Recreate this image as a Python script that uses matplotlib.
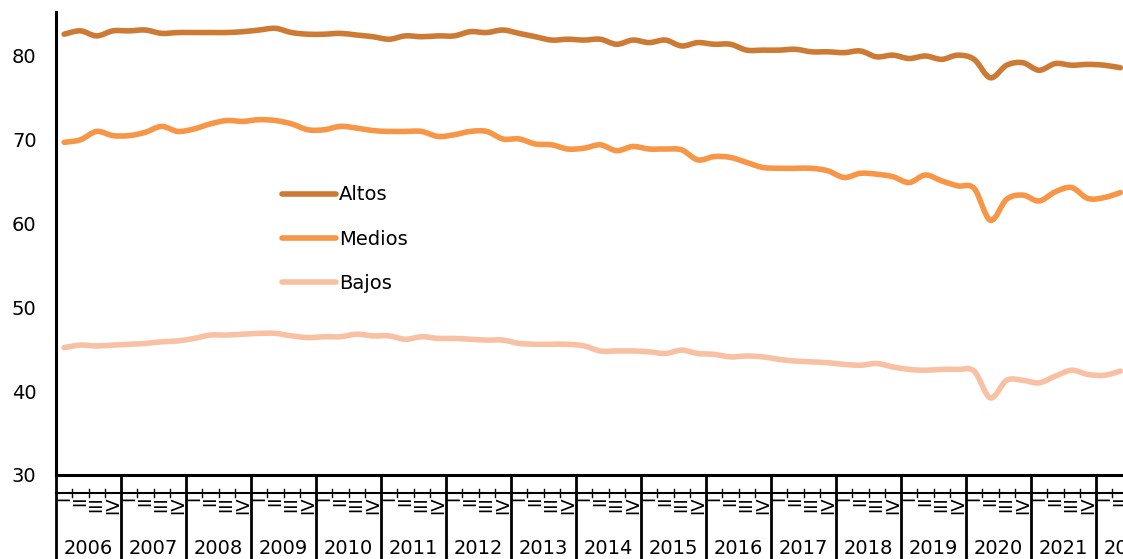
#!/usr/bin/env python3

"""Participación por nivel (Altos, Medios, Bajos), trimestral 2006-2022."""

import matplotlib
matplotlib.use("Agg")
import matplotlib.pyplot as plt
import matplotlib.transforms as mtransforms
from matplotlib.path import Path
from matplotlib.patches import PathPatch
from matplotlib.lines import Line2D

years = [str(y) for y in range(2006, 2023)]
quarters = ["I", "II", "III", "IV"]

altos = [82.6, 83.0, 82.4, 83.0, 83.0, 83.1, 82.7, 82.8,
         82.8, 82.8, 82.8, 82.9, 83.1, 83.3, 82.8, 82.6,
         82.6, 82.7, 82.5, 82.3, 82.0, 82.4, 82.3, 82.4,
         82.4, 82.9, 82.8, 83.1, 82.7, 82.3, 81.9, 82.0,
         81.9, 82.0, 81.4, 81.9, 81.6, 81.9, 81.2, 81.6,
         81.4, 81.4, 80.7, 80.7, 80.7, 80.8, 80.5, 80.5,
         80.4, 80.6, 79.9, 80.1, 79.7, 80.0, 79.6, 80.1,
         79.6, 77.4, 78.9, 79.2, 78.3, 79.1, 78.9, 79.0,
         78.9, 78.6]
medios = [69.7, 70.0, 71.0, 70.5, 70.5, 70.9, 71.6, 71.0,
          71.3, 71.9, 72.3, 72.2, 72.4, 72.3, 71.9, 71.2,
          71.2, 71.6, 71.4, 71.1, 71.0, 71.0, 71.0, 70.4,
          70.6, 71.0, 71.0, 70.1, 70.1, 69.5, 69.4, 68.9,
          69.0, 69.4, 68.7, 69.2, 68.9, 68.9, 68.8, 67.6,
          68.0, 67.9, 67.3, 66.7, 66.6, 66.6, 66.6, 66.3,
          65.5, 66.0, 65.9, 65.6, 64.9, 65.8, 65.1, 64.5,
          64.2, 60.4, 62.9, 63.4, 62.7, 63.8, 64.3, 63.0,
          63.1, 63.7]
bajos = [45.2, 45.5, 45.4, 45.5, 45.6, 45.7, 45.9, 46.0,
         46.3, 46.7, 46.7, 46.8, 46.9, 46.9, 46.6, 46.4,
         46.5, 46.5, 46.8, 46.6, 46.6, 46.2, 46.5, 46.3,
         46.3, 46.2, 46.1, 46.1, 45.7, 45.6, 45.6, 45.6,
         45.4, 44.8, 44.8, 44.8, 44.7, 44.5, 44.9, 44.5,
         44.4, 44.1, 44.2, 44.1, 43.8, 43.6, 43.5, 43.4,
         43.2, 43.1, 43.3, 42.9, 42.6, 42.5, 42.6, 42.6,
         42.4, 39.2, 41.3, 41.3, 41.0, 41.8, 42.5, 42.0,
         41.9, 42.4]

names = ["Altos", "Medios", "Bajos"]
colors = ["#CD7A35", "#F79646", "#F8C1A3"]

FS = 14
plt.rcParams["font.family"] = ["DejaVu Sans"]


def smooth_path(xs, ys):
    """Smooth line through the points (Catmull-Rom as cubic beziers)."""
    pts = list(zip(xs, ys))
    verts = [pts[0]]
    codes = [Path.MOVETO]
    n = len(pts)
    for i in range(n - 1):
        p0 = pts[max(i - 1, 0)]
        p1 = pts[i]
        p2 = pts[i + 1]
        p3 = pts[min(i + 2, n - 1)]
        c1 = (p1[0] + (p2[0] - p0[0]) / 6, p1[1] + (p2[1] - p0[1]) / 6)
        c2 = (p2[0] - (p3[0] - p1[0]) / 6, p2[1] - (p3[1] - p1[1]) / 6)
        verts += [c1, c2, p2]
        codes += [Path.CURVE4] * 3
    return Path(verts, codes)


fig = plt.figure(figsize=(11.23, 5.59), dpi=100)
# axes runs past the right edge on purpose: the reference is cut at 2022
ax = fig.add_axes([56 / 1123, 84 / 559, 1105 / 1123, 463 / 559])

x = list(range(len(altos)))
handles = []
for vals, name, c in zip([altos, medios, bajos], names, colors):
    ax.add_patch(PathPatch(smooth_path(x, vals), fill=False, edgecolor=c,
                           lw=4, capstyle="round", joinstyle="round"))
    handles.append(Line2D([], [], color=c, lw=4, solid_capstyle="round"))

ax.set_xlim(-0.5, len(years) * 4 - 0.5)
ax.set_ylim(30, 85.25)
ax.set_yticks(range(30, 81, 10))
ax.tick_params(axis="y", length=0, labelsize=FS, pad=14)
ax.set_xticks([])
for s in ["top", "right"]:
    ax.spines[s].set_visible(False)
ax.spines["left"].set_linewidth(2.2)
ax.spines["bottom"].set_linewidth(2.2)

# category axis: years with quarters under the plot
tr = mtransforms.blended_transform_factory(ax.transData, ax.transAxes)
px = 1 / 463.0  # one pixel in axes fraction (vertical)
y_line = -18 * px
y_bottom = -90 * px
ax.plot([-0.5, len(years) * 4 - 0.5], [y_line, y_line], color="black",
        lw=1.5, transform=tr, clip_on=False)
for i, yr in enumerate(years):
    x0 = i * 4 - 0.5
    ax.plot([x0, x0], [0, y_bottom], color="black", lw=2, transform=tr,
            clip_on=False)
    for k in range(1, 4):
        ax.plot([x0 + k, x0 + k], [-14 * px, -22 * px], color="black",
                lw=1, transform=tr, clip_on=False)
    for k, q in enumerate(quarters):
        ax.text(x0 + k + 0.5, -21 * px, q, rotation=90, ha="center",
                va="top", fontsize=13, transform=tr, clip_on=False)
    ax.text(x0 + 2, -73 * px, yr, ha="center", va="center", fontsize=FS,
            transform=tr, clip_on=False)

ax.legend(handles, names, loc="upper left",
          bbox_to_anchor=(264 / 1123, 1 - 168 / 559),
          bbox_transform=fig.transFigure, frameon=False, fontsize=FS,
          handlelength=2.8, handletextpad=0.15, labelspacing=1.3)

fig.savefig("out.png", dpi=100)
